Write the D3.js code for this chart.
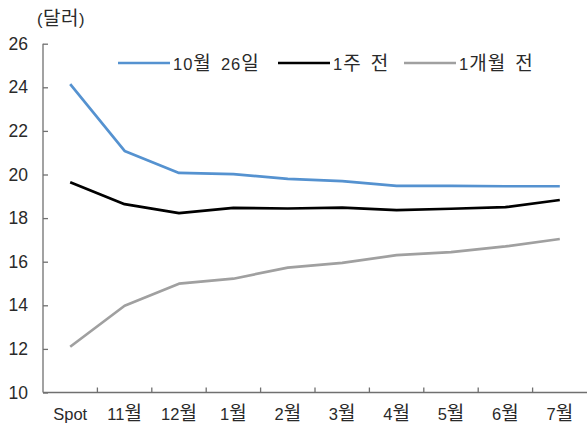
<!DOCTYPE html>
<html>
<head>
<meta charset="utf-8">
<script src="https://cdn.jsdelivr.net/npm/d3@7"></script>
<style>
  html, body { margin: 0; padding: 0; background: #fff; }
  svg text { font-family: "Liberation Sans", Arial, "Noto Sans CJK KR", sans-serif; fill: #2a2a2a; }
</style>
</head>
<body>
<svg id="chart" width="587" height="428"></svg>
<script>
// Categories along the x axis
const categories = ["Spot", "11월", "12월", "1월", "2월", "3월", "4월", "5월", "6월", "7월"];
// Price curves (달러)
const oct26 = [24.15, 21.08, 20.07, 20.02, 19.8, 19.7, 19.48, 19.48, 19.46, 19.46];
const weekAgo = [19.65, 18.64, 18.23, 18.47, 18.44, 18.48, 18.37, 18.43, 18.5, 18.83];
const monthAgo = [12.1, 13.98, 14.99, 15.22, 15.73, 15.95, 16.3, 16.44, 16.7, 17.04];
const yTicks = [10, 12, 14, 16, 18, 20, 22, 24, 26];
const seriesNames = ["10월 26일", "1주 전", "1개월 전"];

const series = [
  { name: seriesNames[0], values: oct26, color: "#5592d0" },
  { name: seriesNames[1], values: weekAgo, color: "#000000" },
  { name: seriesNames[2], values: monthAgo, color: "#a0a0a0" }
];

const svg = d3.select("#chart");
const margin = { left: 43, right: 0, top: 43.7 };
const W = 587;
const latinSize = 16.5, hangulSize = 19;

// Write a label as tspans so Hangul runs get a slightly larger size than digits/Latin
function richText(sel, str) {
  const runs = str.match(/[\uAC00-\uD7A3\u3131-\u318E]+|[^\uAC00-\uD7A3\u3131-\u318E]+/g) || [];
  runs.forEach(r => {
    const hangul = /[\uAC00-\uD7A3]/.test(r);
    sel.append("tspan").attr("font-size", hangul ? hangulSize : latinSize).text(r);
  });
}

const x = d3.scaleBand().domain(categories).range([margin.left, W - margin.right]);
const y = d3.scaleLinear().domain([10, 26]).range([392.5, margin.top]);

const axisColor = "#707070";

// Y axis: ticks point inward
const yAxis = svg.append("g")
  .attr("transform", `translate(${margin.left},0)`)
  .call(d3.axisLeft(y).tickValues(yTicks).tickSize(-5).tickPadding(15).tickFormat(d3.format("d")));
yAxis.select(".domain").attr("stroke", axisColor).attr("stroke-width", 1.3).attr("d", `M0,${y(26)}V${y(10)}`);
yAxis.selectAll(".tick line").attr("stroke", axisColor).attr("stroke-width", 1.3);
yAxis.selectAll(".tick text").attr("font-size", 17.5).style("fill", "#2a2a2a");

// X axis: line with ticks at band boundaries
const xg = svg.append("g").attr("transform", `translate(0,${y(10)})`);
xg.append("line")
  .attr("x1", margin.left).attr("x2", W)
  .attr("stroke", axisColor).attr("stroke-width", 1.3);
xg.selectAll("line.tk")
  .data(categories.slice(1))
  .join("line")
  .attr("class", "tk")
  .attr("x1", d => x(d)).attr("x2", d => x(d))
  .attr("y1", 0).attr("y2", -5)
  .attr("stroke", axisColor).attr("stroke-width", 1.3);
xg.selectAll("text")
  .data(categories)
  .join("text")
  .attr("x", d => x(d) + x.bandwidth() / 2)
  .attr("y", 27)
  .attr("text-anchor", "middle")
  .each(function (d) { richText(d3.select(this), d); });

// Unit label
richText(svg.append("text").attr("x", 37).attr("y", 25).attr("letter-spacing", 0.5), "(달러)");

// Lines
const line = d3.line()
  .x((d, i) => x(categories[i]) + x.bandwidth() / 2)
  .y(d => y(d));

svg.selectAll("path.series")
  .data(series)
  .join("path")
  .attr("class", "series")
  .attr("fill", "none")
  .attr("stroke", d => d.color)
  .attr("stroke-width", 2.7)
  .attr("stroke-linejoin", "round")
  .attr("d", d => line(d.values));

// Legend
const legendX = [118, 278, 404];
const lg = svg.selectAll("g.legend")
  .data(series)
  .join("g")
  .attr("class", "legend")
  .attr("transform", (d, i) => `translate(${legendX[i]},63)`);
lg.append("line").attr("x1", 0).attr("x2", 52)
  .attr("stroke", d => d.color).attr("stroke-width", 2.7);
lg.append("text").attr("x", 55).attr("y", 6.5)
  .attr("word-spacing", 3.5).attr("letter-spacing", 1)
  .each(function (d) { richText(d3.select(this), d.name); });
</script>
</body>
</html>
